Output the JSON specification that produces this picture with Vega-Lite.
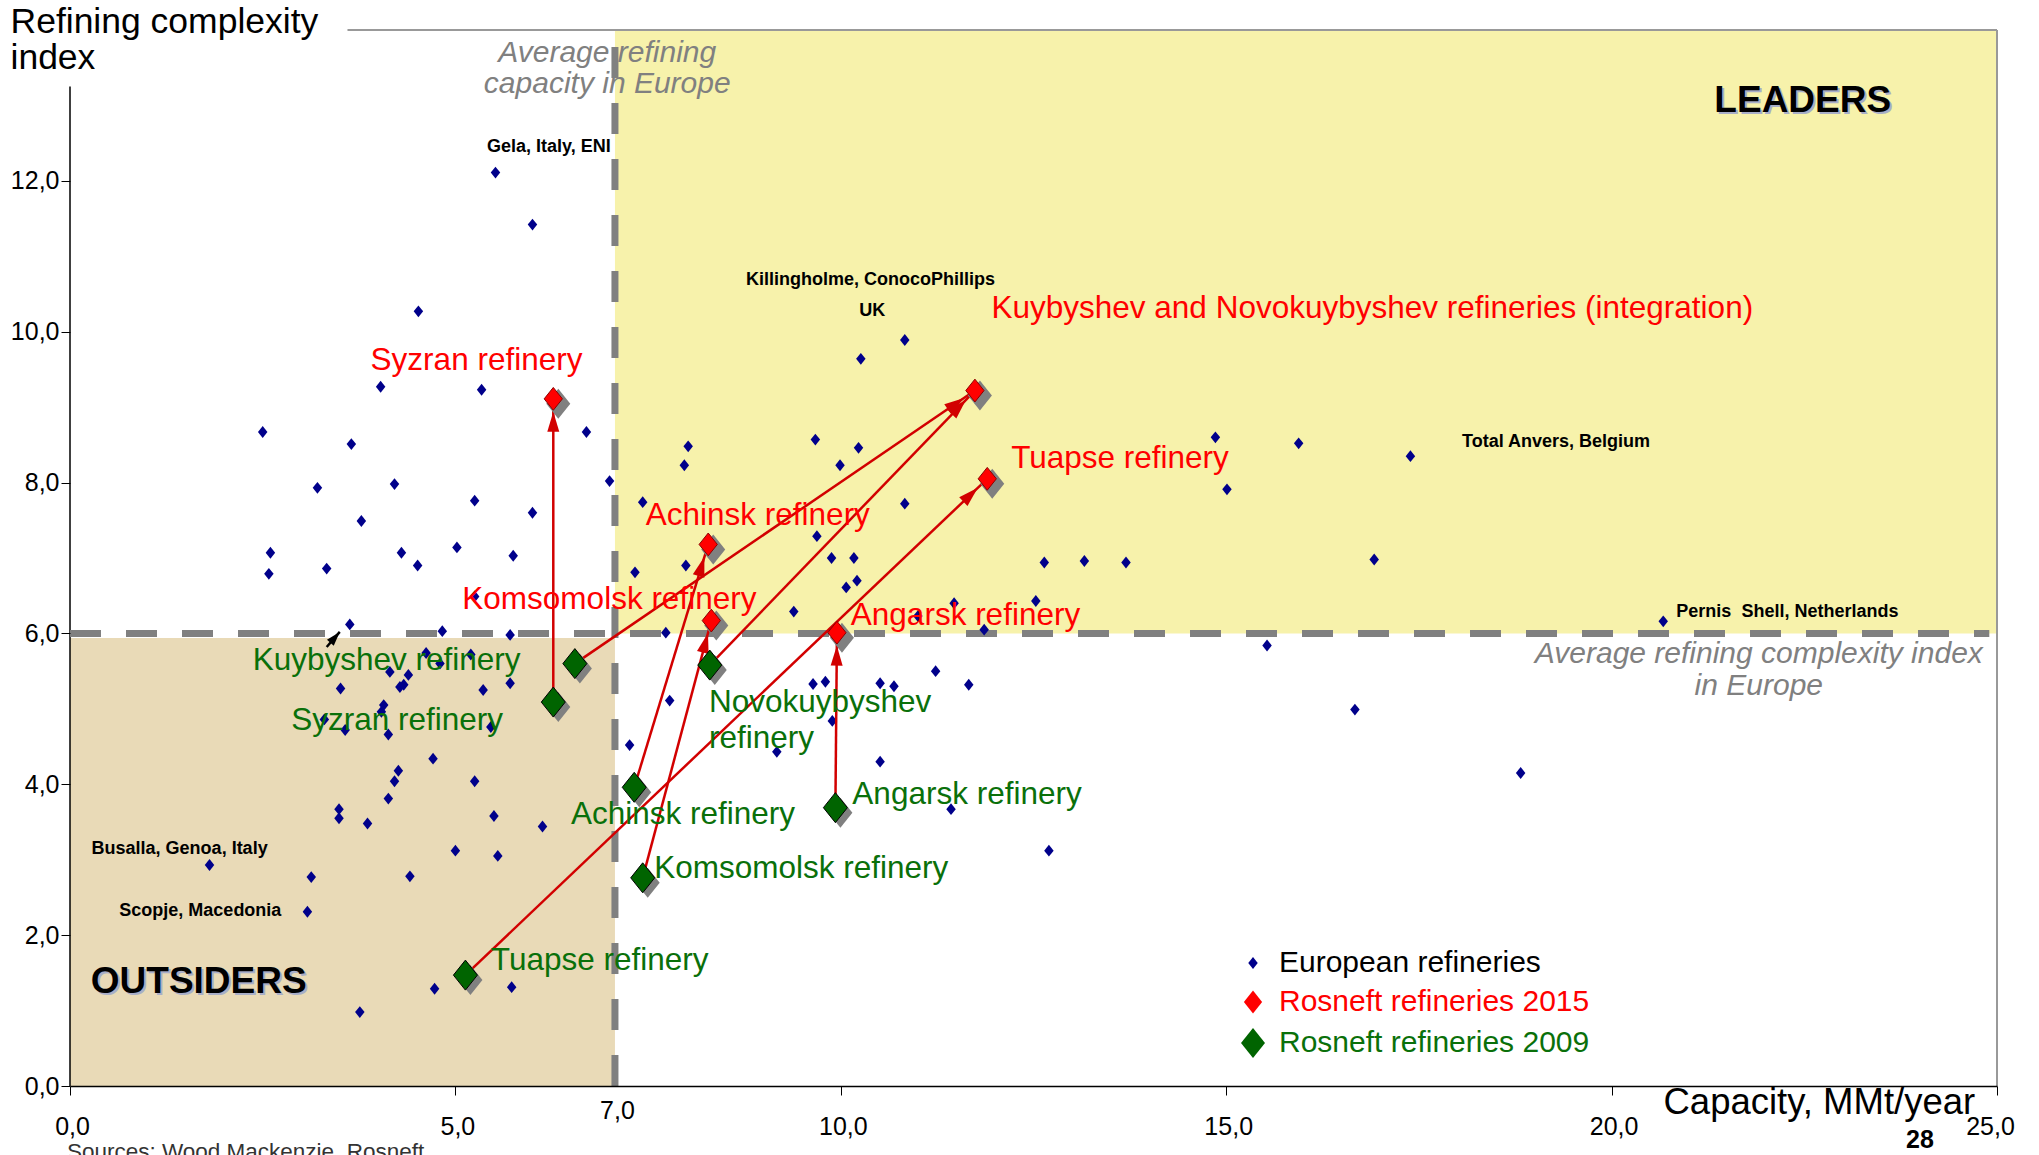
{
  "$schema": "https://vega.github.io/schema/vega-lite/v6.json",
  "width": 1927,
  "height": 1056,
  "autosize": {"type": "none"},
  "padding": {"left": 70, "top": 30, "right": 42, "bottom": 69},
  "background": "#ffffff",
  "config": {"view": {"stroke": null}, "font": "Liberation Sans", "axis": {"labelFont": "Liberation Sans", "titleFont": "Liberation Sans"}},
  "datasets": {
    "regions": [
      {"region": "OUTSIDERS", "x": 0, "x2": 7.07, "y": 0, "y2": 5.94},
      {"region": "LEADERS", "x": 7.07, "x2": 25, "y": 6, "y2": 14}
    ],
    "gridx": [{"x": 5}, {"x": 10}, {"x": 15}, {"x": 20}],
    "gridy": [{"y": 2}, {"y": 4}, {"y": 6}, {"y": 8}, {"y": 10}, {"y": 12}],
    "borders": [
      {"edge": "y axis", "x": 0, "x2": 0, "y": 0, "y2": 13.25},
      {"edge": "top", "x": 3.6, "x2": 25, "y": 14, "y2": 14},
      {"edge": "right", "x": 25, "x2": 25, "y": 0, "y2": 14}
    ],
    "dividers": [
      {"divider": "average capacity", "x": 7.07, "x2": 7.07, "y": 14, "y2": 0},
      {"divider": "average complexity", "x": 0, "x2": 24.9, "y": 6, "y2": 6}
    ],
    "pointer": [
      {"x": 3.33, "y": 5.82, "x2": 3.50, "y2": 6.02}
    ],
    "europe": [
      {"series": "European refineries", "x": 5.52, "y": 12.11},
      {"series": "European refineries", "x": 6.00, "y": 11.42},
      {"series": "European refineries", "x": 4.52, "y": 10.27},
      {"series": "European refineries", "x": 4.03, "y": 9.27},
      {"series": "European refineries", "x": 5.34, "y": 9.23},
      {"series": "European refineries", "x": 2.50, "y": 8.67},
      {"series": "European refineries", "x": 6.70, "y": 8.67},
      {"series": "European refineries", "x": 3.65, "y": 8.51},
      {"series": "European refineries", "x": 3.21, "y": 7.93},
      {"series": "European refineries", "x": 4.21, "y": 7.98},
      {"series": "European refineries", "x": 7.00, "y": 8.02},
      {"series": "European refineries", "x": 5.25, "y": 7.76},
      {"series": "European refineries", "x": 6.00, "y": 7.60},
      {"series": "European refineries", "x": 3.78, "y": 7.49},
      {"series": "European refineries", "x": 7.43, "y": 7.74},
      {"series": "European refineries", "x": 2.60, "y": 7.07},
      {"series": "European refineries", "x": 4.30, "y": 7.07},
      {"series": "European refineries", "x": 5.02, "y": 7.14},
      {"series": "European refineries", "x": 5.75, "y": 7.03},
      {"series": "European refineries", "x": 2.58, "y": 6.79},
      {"series": "European refineries", "x": 3.33, "y": 6.86},
      {"series": "European refineries", "x": 4.51, "y": 6.90},
      {"series": "European refineries", "x": 7.99, "y": 6.90},
      {"series": "European refineries", "x": 7.33, "y": 6.81},
      {"series": "European refineries", "x": 5.25, "y": 6.49},
      {"series": "European refineries", "x": 3.63, "y": 6.12},
      {"series": "European refineries", "x": 4.83, "y": 6.03},
      {"series": "European refineries", "x": 5.71, "y": 5.98},
      {"series": "European refineries", "x": 7.73, "y": 6.01},
      {"series": "European refineries", "x": 4.62, "y": 5.74},
      {"series": "European refineries", "x": 5.20, "y": 5.72},
      {"series": "European refineries", "x": 4.80, "y": 5.60},
      {"series": "European refineries", "x": 4.15, "y": 5.49},
      {"series": "European refineries", "x": 4.39, "y": 5.45},
      {"series": "European refineries", "x": 3.51, "y": 5.27},
      {"series": "European refineries", "x": 4.28, "y": 5.29},
      {"series": "European refineries", "x": 4.33, "y": 5.32},
      {"series": "European refineries", "x": 5.36, "y": 5.25},
      {"series": "European refineries", "x": 5.71, "y": 5.34},
      {"series": "European refineries", "x": 7.78, "y": 5.11},
      {"series": "European refineries", "x": 4.07, "y": 5.05},
      {"series": "European refineries", "x": 4.04, "y": 4.96},
      {"series": "European refineries", "x": 3.30, "y": 4.86},
      {"series": "European refineries", "x": 3.57, "y": 4.72},
      {"series": "European refineries", "x": 4.13, "y": 4.66},
      {"series": "European refineries", "x": 5.46, "y": 4.76},
      {"series": "European refineries", "x": 7.26, "y": 4.52},
      {"series": "European refineries", "x": 4.71, "y": 4.34},
      {"series": "European refineries", "x": 4.26, "y": 4.18},
      {"series": "European refineries", "x": 4.21, "y": 4.04},
      {"series": "European refineries", "x": 5.25, "y": 4.04},
      {"series": "European refineries", "x": 4.13, "y": 3.81},
      {"series": "European refineries", "x": 3.49, "y": 3.67},
      {"series": "European refineries", "x": 3.49, "y": 3.55},
      {"series": "European refineries", "x": 3.86, "y": 3.48},
      {"series": "European refineries", "x": 5.50, "y": 3.58},
      {"series": "European refineries", "x": 6.13, "y": 3.44},
      {"series": "European refineries", "x": 5.00, "y": 3.12},
      {"series": "European refineries", "x": 5.55, "y": 3.05},
      {"series": "European refineries", "x": 1.81, "y": 2.93},
      {"series": "European refineries", "x": 3.13, "y": 2.77},
      {"series": "European refineries", "x": 4.41, "y": 2.78},
      {"series": "European refineries", "x": 3.08, "y": 2.31},
      {"series": "European refineries", "x": 4.73, "y": 1.29},
      {"series": "European refineries", "x": 5.73, "y": 1.31},
      {"series": "European refineries", "x": 3.76, "y": 0.98},
      {"series": "European refineries", "x": 10.83, "y": 9.89},
      {"series": "European refineries", "x": 10.26, "y": 9.64},
      {"series": "European refineries", "x": 8.02, "y": 8.48},
      {"series": "European refineries", "x": 7.97, "y": 8.23},
      {"series": "European refineries", "x": 9.67, "y": 8.57},
      {"series": "European refineries", "x": 10.23, "y": 8.46},
      {"series": "European refineries", "x": 9.99, "y": 8.23},
      {"series": "European refineries", "x": 14.86, "y": 8.60},
      {"series": "European refineries", "x": 15.94, "y": 8.52},
      {"series": "European refineries", "x": 10.83, "y": 7.72},
      {"series": "European refineries", "x": 15.01, "y": 7.91},
      {"series": "European refineries", "x": 9.69, "y": 7.29},
      {"series": "European refineries", "x": 9.88, "y": 7.00},
      {"series": "European refineries", "x": 10.17, "y": 7.00},
      {"series": "European refineries", "x": 10.21, "y": 6.70},
      {"series": "European refineries", "x": 10.07, "y": 6.61},
      {"series": "European refineries", "x": 12.64, "y": 6.94},
      {"series": "European refineries", "x": 13.16, "y": 6.96},
      {"series": "European refineries", "x": 13.70, "y": 6.94},
      {"series": "European refineries", "x": 9.39, "y": 6.29},
      {"series": "European refineries", "x": 11.47, "y": 6.40},
      {"series": "European refineries", "x": 12.53, "y": 6.43},
      {"series": "European refineries", "x": 11.00, "y": 6.23},
      {"series": "European refineries", "x": 11.86, "y": 6.05},
      {"series": "European refineries", "x": 15.53, "y": 5.84},
      {"series": "European refineries", "x": 11.23, "y": 5.50},
      {"series": "European refineries", "x": 9.64, "y": 5.33},
      {"series": "European refineries", "x": 9.80, "y": 5.36},
      {"series": "European refineries", "x": 10.51, "y": 5.34},
      {"series": "European refineries", "x": 10.69, "y": 5.30},
      {"series": "European refineries", "x": 11.66, "y": 5.32},
      {"series": "European refineries", "x": 9.89, "y": 4.84},
      {"series": "European refineries", "x": 9.17, "y": 4.43},
      {"series": "European refineries", "x": 10.51, "y": 4.30},
      {"series": "European refineries", "x": 11.43, "y": 3.67},
      {"series": "European refineries", "x": 12.70, "y": 3.12},
      {"series": "European refineries", "x": 17.39, "y": 8.35},
      {"series": "European refineries", "x": 16.92, "y": 6.98},
      {"series": "European refineries", "x": 20.67, "y": 6.16},
      {"series": "European refineries", "x": 16.67, "y": 4.99},
      {"series": "European refineries", "x": 18.82, "y": 4.15}
    ],
    "rosneft": [
      {"refinery": "Syzran", "series": "Rosneft refineries 2015", "x": 6.27, "y": 9.11},
      {"refinery": "Kuybyshev and Novokuybyshev", "series": "Rosneft refineries 2015", "x": 11.74, "y": 9.22},
      {"refinery": "Tuapse", "series": "Rosneft refineries 2015", "x": 11.90, "y": 8.05},
      {"refinery": "Achinsk", "series": "Rosneft refineries 2015", "x": 8.28, "y": 7.18},
      {"refinery": "Komsomolsk", "series": "Rosneft refineries 2015", "x": 8.32, "y": 6.17},
      {"refinery": "Angarsk", "series": "Rosneft refineries 2015", "x": 9.95, "y": 6.01},
      {"refinery": "Kuybyshev", "series": "Rosneft refineries 2009", "x": 6.55, "y": 5.60},
      {"refinery": "Syzran", "series": "Rosneft refineries 2009", "x": 6.27, "y": 5.09},
      {"refinery": "Novokuybyshev", "series": "Rosneft refineries 2009", "x": 8.30, "y": 5.58},
      {"refinery": "Achinsk", "series": "Rosneft refineries 2009", "x": 7.32, "y": 3.96},
      {"refinery": "Komsomolsk", "series": "Rosneft refineries 2009", "x": 7.43, "y": 2.76},
      {"refinery": "Angarsk", "series": "Rosneft refineries 2009", "x": 9.93, "y": 3.69},
      {"refinery": "Tuapse", "series": "Rosneft refineries 2009", "x": 5.13, "y": 1.47}
    ],
    "arrows": [
      {"refinery": "Syzran", "x": 6.27, "y": 5.09, "x2": 6.27, "y2": 9.11},
      {"refinery": "Kuybyshev", "x": 6.55, "y": 5.60, "x2": 11.74, "y2": 9.22},
      {"refinery": "Novokuybyshev", "x": 8.30, "y": 5.58, "x2": 11.74, "y2": 9.22},
      {"refinery": "Achinsk", "x": 7.32, "y": 3.96, "x2": 8.28, "y2": 7.18},
      {"refinery": "Komsomolsk", "x": 7.43, "y": 2.76, "x2": 8.32, "y2": 6.17},
      {"refinery": "Angarsk", "x": 9.93, "y": 3.69, "x2": 9.95, "y2": 6.01},
      {"refinery": "Tuapse", "x": 5.13, "y": 1.47, "x2": 11.90, "y2": 8.05}
    ],
    "labels": [
      {"kind": "rosneft2015", "text": "Syzran refinery", "x": 3.90, "y": 9.49},
      {"kind": "rosneft2015", "text": "Kuybyshev and Novokuybyshev refineries (integration)", "x": 11.955, "y": 10.18},
      {"kind": "rosneft2015", "text": "Tuapse refinery", "x": 12.21, "y": 8.19},
      {"kind": "rosneft2015", "text": "Achinsk refinery", "x": 7.47, "y": 7.44},
      {"kind": "rosneft2015", "text": "Komsomolsk refinery", "x": 5.09, "y": 6.32},
      {"kind": "rosneft2015", "text": "Angarsk refinery", "x": 10.13, "y": 6.11},
      {"kind": "rosneft2009", "text": "Kuybyshev refinery", "x": 2.37, "y": 5.52},
      {"kind": "rosneft2009", "text": "Syzran refinery", "x": 2.87, "y": 4.72},
      {"kind": "rosneft2009", "text": "Novokuybyshev", "x": 8.29, "y": 4.96},
      {"kind": "rosneft2009", "text": "refinery", "x": 8.29, "y": 4.48},
      {"kind": "rosneft2009", "text": "Achinsk refinery", "x": 6.50, "y": 3.47},
      {"kind": "rosneft2009", "text": "Komsomolsk refinery", "x": 7.58, "y": 2.76},
      {"kind": "rosneft2009", "text": "Angarsk refinery", "x": 10.15, "y": 3.74},
      {"kind": "rosneft2009", "text": "Tuapse refinery", "x": 5.46, "y": 1.54},
      {"kind": "refinery", "text": "Gela, Italy, ENI", "x": 5.41, "y": 12.38},
      {"kind": "refinery", "text": "Killingholme, ConocoPhillips", "x": 8.77, "y": 10.62},
      {"kind": "refinery", "text": "UK", "x": 10.24, "y": 10.21},
      {"kind": "refinery", "text": "Total Anvers, Belgium", "x": 18.06, "y": 8.47},
      {"kind": "refinery", "text": "Pernis\u00a0 Shell, Netherlands", "x": 20.84, "y": 6.22},
      {"kind": "refinery", "text": "Busalla, Genoa, Italy", "x": 0.28, "y": 3.08},
      {"kind": "refinery", "text": "Scopje, Macedonia", "x": 0.64, "y": 2.25},
      {"kind": "note", "text": "Average refining", "x": 6.97, "y": 13.58},
      {"kind": "note", "text": "capacity in Europe", "x": 6.97, "y": 13.16},
      {"kind": "note", "text": "Average refining complexity index", "x": 21.91, "y": 5.61},
      {"kind": "note", "text": "in Europe", "x": 21.91, "y": 5.18},
      {"kind": "quadrant", "text": "LEADERS", "x": 22.48, "y": 12.91},
      {"kind": "quadrant", "text": "OUTSIDERS", "x": 1.67, "y": 1.23},
      {"kind": "page", "text": "28", "x": 24.0, "y": -0.82},
      {"kind": "source", "text": "Sources: Wood Mackenzie, Rosneft", "x": -0.04, "y": -0.97}
    ]
  },
  "encoding": {
    "x": {
      "field": "x", "type": "quantitative",
      "scale": {"domain": [0, 25], "nice": false, "zero": false},
      "axis": {
        "values": [0, 5, 7.07, 10, 15, 20, 25],
        "labelExpr": "datum.value === 7.07 ? '7,0' : replace(format(datum.value, '.1f'), '.', ',')",
        "grid": false, "domain": true, "domainColor": "#000000", "domainWidth": 1.5,
        "ticks": true, "tickColor": "#000000", "tickSize": 9, "tickWidth": 1,
        "tickOpacity": {"condition": {"test": "datum.value === 7.07", "value": 0}, "value": 1},
        "labelFontSize": 25, "labelColor": "#000000",
        "labelPadding": {"condition": {"test": "datum.value === 7.07", "value": 3}, "value": 19},
        "labelOffset": {"condition": {"test": "datum.value === 25", "value": -7}, "value": 2},
        "labelFlush": false, "labelOverlap": false, "labelBound": false,
        "title": "Capacity, MMt/year", "titleFontSize": 36.5, "titleFontWeight": "normal", "titleColor": "#000000",
        "titleX": 1593, "titleY": 27, "titleAlign": "left", "titleAnchor": "start", "titleBaseline": "alphabetic",
        "zindex": 1
      }
    },
    "y": {
      "field": "y", "type": "quantitative",
      "scale": {"domain": [0, 14], "nice": false, "zero": false},
      "axis": {
        "values": [0, 2, 4, 6, 8, 10, 12],
        "labelExpr": "replace(format(datum.value, '.1f'), '.', ',')",
        "grid": false, "domain": false,
        "ticks": true, "tickColor": "#000000", "tickSize": 9, "tickWidth": 1,
        "labelFontSize": 25, "labelColor": "#000000", "labelPadding": 2,
        "title": ["Refining complexity", "index"], "titleAngle": 0, "titleX": -60, "titleY": 2,
        "titleAlign": "left", "titleAnchor": "start", "titleBaseline": "alphabetic",
        "titleFontSize": 35.5, "titleFontWeight": "normal", "titleColor": "#000000", "titleLineHeight": 36,
        "zindex": 1
      }
    }
  },
  "layer": [
    {
      "data": {"name": "regions"},
      "transform": [{"filter": "datum.region === 'OUTSIDERS'"}],
      "mark": {"type": "rect", "color": "#E9DAB7"},
      "encoding": {"x2": {"field": "x2"}, "y2": {"field": "y2"}}
    },
    {
      "data": {"name": "regions"},
      "transform": [{"filter": "datum.region === 'LEADERS'"}],
      "mark": {"type": "rect", "color": "#F7F2AB"},
      "encoding": {"x2": {"field": "x2"}, "y2": {"field": "y2"}}
    },
    {
      "data": {"name": "gridx"},
      "mark": {"type": "rule", "color": "#333333", "strokeWidth": 1},
      "encoding": {"y": {"datum": 0}, "y2": {"datum": 14}}
    },
    {
      "data": {"name": "gridy"},
      "mark": {"type": "rule", "color": "#333333", "strokeWidth": 1},
      "encoding": {"x": {"datum": 0}, "x2": {"datum": 25}}
    },
    {
      "data": {"name": "borders"},
      "transform": [{"filter": "datum.edge === 'y axis'"}],
      "mark": {"type": "rule", "color": "#000000", "strokeWidth": 1.5},
      "encoding": {"x2": {"field": "x2"}, "y2": {"field": "y2"}}
    },
    {
      "data": {"name": "borders"},
      "transform": [{"filter": "datum.edge !== 'y axis'"}],
      "mark": {"type": "rule", "color": "#999999", "strokeWidth": 2},
      "encoding": {"x2": {"field": "x2"}, "y2": {"field": "y2"}}
    },
    {
      "data": {"name": "dividers"},
      "transform": [{"filter": "datum.divider === 'average capacity'"}],
      "mark": {"type": "rule", "color": "#808080", "strokeWidth": 7, "strokeDash": [31, 25], "strokeDashOffset": 39},
      "encoding": {"x2": {"field": "x2"}, "y2": {"field": "y2"}}
    },
    {
      "data": {"name": "dividers"},
      "transform": [{"filter": "datum.divider === 'average complexity'"}],
      "mark": {"type": "rule", "color": "#808080", "strokeWidth": 7, "strokeDash": [31, 25], "strokeDashOffset": 0},
      "encoding": {"x2": {"field": "x2"}, "y2": {"field": "y2"}}
    },
    {
      "data": {"name": "pointer"},
      "mark": {"type": "rule", "color": "#000000", "strokeWidth": 2.5},
      "encoding": {"x2": {"field": "x2"}, "y2": {"field": "y2"}}
    },
    {
      "data": {"name": "pointer"},
      "transform": [{"calculate": "atan2((datum.x2 - datum.x) * 77.08, (datum.y2 - datum.y) * 75.43) * 180 / PI", "as": "angle"}],
      "mark": {"type": "point", "filled": true, "opacity": 1, "color": "#000000", "strokeWidth": 0, "size": 144, "shape": "M0,0L0.75,2.4L-0.75,2.4Z"},
      "encoding": {
        "x": {"field": "x2", "type": "quantitative"},
        "y": {"field": "y2", "type": "quantitative"},
        "angle": {"field": "angle", "type": "quantitative", "scale": null}
      }
    },
    {
      "data": {"name": "europe"},
      "mark": {"type": "point", "filled": true, "opacity": 1, "strokeWidth": 0},
      "encoding": {
        "color": {"field": "series", "type": "nominal",
          "scale": {"domain": ["European refineries", "Rosneft refineries 2015", "Rosneft refineries 2009"], "range": ["#00008B", "#FF0000", "#006400"]},
          "legend": {
            "title": null, "orient": "none", "legendX": 1168, "legendY": 918, "direction": "vertical",
            "labelFont": "Liberation Sans", "labelFontSize": 30, "labelLimit": 800, "labelOffset": 11,
            "rowPadding": 9, "padding": 0, "symbolOpacity": 1, "symbolStrokeWidth": 1,
            "labelColor": {"expr": "datum.value === 'Rosneft refineries 2015' ? '#FF0000' : datum.value === 'Rosneft refineries 2009' ? '#0A700A' : '#000000'"},
            "symbolStrokeColor": {"expr": "datum.value === 'Rosneft refineries 2015' ? '#8B0000' : datum.value === 'Rosneft refineries 2009' ? '#000000' : 'transparent'"}
          }
        },
        "size": {"field": "series", "type": "nominal",
          "scale": {"domain": ["European refineries", "Rosneft refineries 2015", "Rosneft refineries 2009"], "range": [90, 576, 576]}},
        "shape": {"field": "series", "type": "nominal",
          "scale": {"domain": ["European refineries", "Rosneft refineries 2015", "Rosneft refineries 2009"], "range": ["M0,-1.25L1,0L0,1.25L-1,0Z", "M0,-1.25L1,0L0,1.25L-1,0Z", "M0,-1.25L1,0L0,1.25L-1,0Z"]}}
      }
    },
    {
      "data": {"name": "arrows"},
      "mark": {"type": "rule", "color": "#D20000", "strokeWidth": 2.5},
      "encoding": {"x2": {"field": "x2"}, "y2": {"field": "y2"}}
    },
    {
      "data": {"name": "arrows"},
      "transform": [{"calculate": "atan2((datum.x2 - datum.x) * 77.08, (datum.y2 - datum.y) * 75.43) * 180 / PI", "as": "angle"}],
      "mark": {"type": "point", "filled": true, "opacity": 1, "color": "#D20000", "strokeWidth": 0, "size": 400, "shape": "M0,1.3L0.6,3.3L-0.6,3.3Z"},
      "encoding": {
        "x": {"field": "x2", "type": "quantitative"},
        "y": {"field": "y2", "type": "quantitative"},
        "angle": {"field": "angle", "type": "quantitative", "scale": null}
      }
    },
    {
      "data": {"name": "rosneft"},
      "mark": {"type": "point", "filled": true, "opacity": 1, "color": "#808080", "strokeWidth": 0, "size": 576, "shape": "M0,-1.25L1,0L0,1.25L-1,0Z", "xOffset": 5, "yOffset": 5}
    },
    {
      "data": {"name": "rosneft"},
      "mark": {"type": "point", "filled": true, "opacity": 1, "strokeWidth": 1},
      "encoding": {
        "color": {"field": "series", "type": "nominal",
          "scale": {"domain": ["European refineries", "Rosneft refineries 2015", "Rosneft refineries 2009"], "range": ["#00008B", "#FF0000", "#006400"]},
          "legend": {
            "title": null, "orient": "none", "legendX": 1168, "legendY": 918, "direction": "vertical",
            "labelFont": "Liberation Sans", "labelFontSize": 30, "labelLimit": 800, "labelOffset": 11,
            "rowPadding": 9, "padding": 0, "symbolOpacity": 1, "symbolStrokeWidth": 1,
            "labelColor": {"expr": "datum.value === 'Rosneft refineries 2015' ? '#FF0000' : datum.value === 'Rosneft refineries 2009' ? '#0A700A' : '#000000'"},
            "symbolStrokeColor": {"expr": "datum.value === 'Rosneft refineries 2015' ? '#8B0000' : datum.value === 'Rosneft refineries 2009' ? '#000000' : 'transparent'"}
          }
        },
        "size": {"field": "series", "type": "nominal",
          "scale": {"domain": ["European refineries", "Rosneft refineries 2015", "Rosneft refineries 2009"], "range": [90, 576, 576]}},
        "shape": {"field": "series", "type": "nominal",
          "scale": {"domain": ["European refineries", "Rosneft refineries 2015", "Rosneft refineries 2009"], "range": ["M0,-1.25L1,0L0,1.25L-1,0Z", "M0,-1.25L1,0L0,1.25L-1,0Z", "M0,-1.25L1,0L0,1.25L-1,0Z"]}},
        "stroke": {"condition": {"test": "datum.series === 'Rosneft refineries 2015'", "value": "#8B0000"}, "value": "#000000"}
      }
    },
    {
      "data": {"name": "labels"},
      "transform": [{"filter": "datum.kind === 'rosneft2015'"}],
      "mark": {"type": "text", "align": "left", "baseline": "alphabetic", "fontSize": 31.5, "color": "#FF0000", "font": "Liberation Sans"},
      "encoding": {"text": {"field": "text"}}
    },
    {
      "data": {"name": "labels"},
      "transform": [{"filter": "datum.kind === 'rosneft2009'"}],
      "mark": {"type": "text", "align": "left", "baseline": "alphabetic", "fontSize": 31.5, "color": "#0A700A", "font": "Liberation Sans"},
      "encoding": {"text": {"field": "text"}}
    },
    {
      "data": {"name": "labels"},
      "transform": [{"filter": "datum.kind === 'refinery'"}],
      "mark": {"type": "text", "align": "left", "baseline": "alphabetic", "fontSize": 18, "fontWeight": "bold", "color": "#000000", "font": "Liberation Sans"},
      "encoding": {"text": {"field": "text"}}
    },
    {
      "data": {"name": "labels"},
      "transform": [{"filter": "datum.kind === 'note'"}],
      "mark": {"type": "text", "align": "center", "baseline": "alphabetic", "fontSize": 30, "fontStyle": "italic", "color": "#808080", "font": "Liberation Sans"},
      "encoding": {"text": {"field": "text"}}
    },
    {
      "data": {"name": "labels"},
      "transform": [{"filter": "datum.kind === 'quadrant'"}],
      "mark": {"type": "text", "align": "center", "baseline": "alphabetic", "fontSize": 37, "fontWeight": "bold", "color": "#A8AEC8", "font": "Liberation Sans", "dx": 2, "dy": 2},
      "encoding": {"text": {"field": "text"}}
    },
    {
      "data": {"name": "labels"},
      "transform": [{"filter": "datum.kind === 'quadrant'"}],
      "mark": {"type": "text", "align": "center", "baseline": "alphabetic", "fontSize": 37, "fontWeight": "bold", "color": "#000000", "font": "Liberation Sans"},
      "encoding": {"text": {"field": "text"}}
    },
    {
      "data": {"name": "labels"},
      "transform": [{"filter": "datum.kind === 'page'"}],
      "mark": {"type": "text", "align": "center", "baseline": "alphabetic", "fontSize": 25, "fontWeight": "bold", "color": "#000000", "font": "Liberation Sans"},
      "encoding": {"text": {"field": "text"}}
    },
    {
      "data": {"name": "labels"},
      "transform": [{"filter": "datum.kind === 'source'"}],
      "mark": {"type": "text", "align": "left", "baseline": "alphabetic", "fontSize": 22.5, "color": "#333333", "font": "Liberation Sans"},
      "encoding": {"text": {"field": "text"}}
    }
  ]
}
